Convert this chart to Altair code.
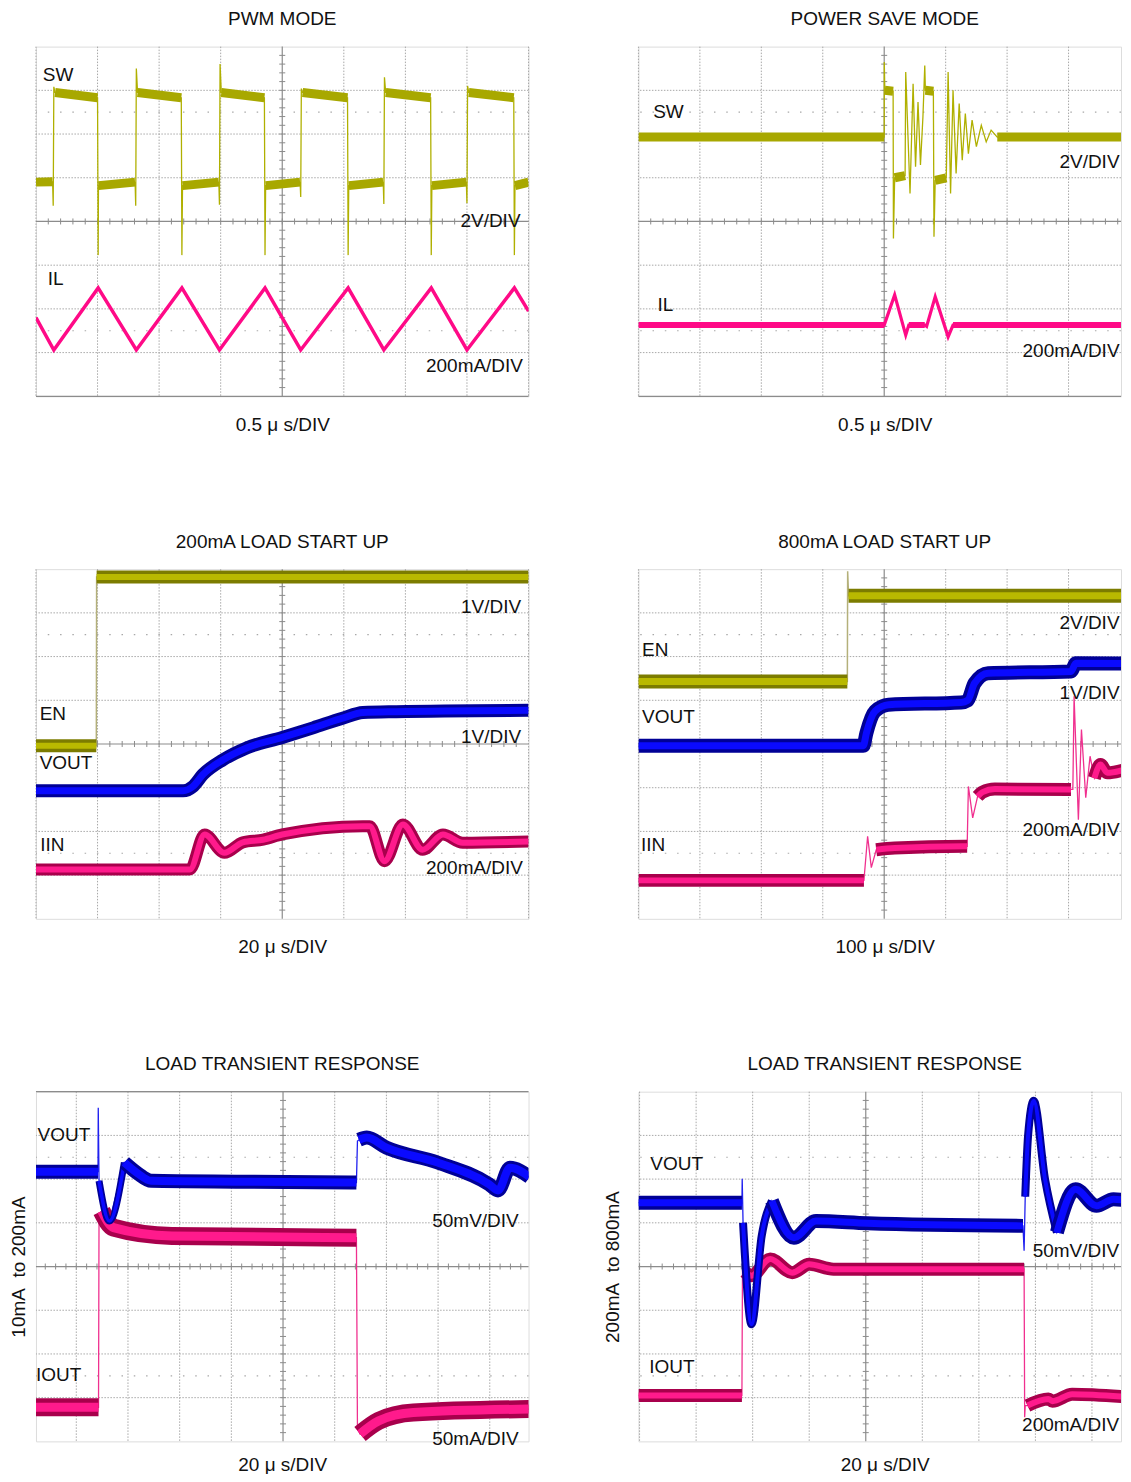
import altair as alt
import pandas as pd

FONT = "Liberation Sans"
FS = 19
TXT = "#111111"
GRID = "#a8a8a8"
AXC = "#8c8c8c"

# seg codes: >0 thick noisy band, <0 medium-width stroke, 0 thin connecting trace only

# ---------------- Panel 1: PWM MODE ----------------
PWM_SW_T = [-4.00, -3.73, -3.72, -3.71, -3.69, -3.00, -2.99, -2.985, -2.39, -2.38, -2.37, -2.35,
            -1.64, -1.63, -1.62, -1.03, -1.02, -1.01, -0.99, -0.29, -0.28, -0.27, 0.29, 0.30,
            0.31, 0.33, 1.06, 1.07, 1.08, 1.64, 1.65, 1.66, 1.68, 2.41, 2.42, 2.43, 2.99, 3.00,
            3.01, 3.03, 3.76, 3.77, 3.78, 4.00]
PWM_SW_V = [0.90, 0.91, 0.36, 3.08, 2.95, 2.83, -0.77, 0.82, 0.90, 0.36, 3.50, 2.95,
            2.83, -0.77, 0.82, 0.90, 0.38, 3.60, 2.95, 2.83, -0.77, 0.82, 0.90, 0.56,
            3.04, 2.95, 2.83, -0.77, 0.82, 0.90, 0.40, 3.30, 2.95, 2.83, -0.77, 0.82, 0.90, 0.42,
            3.10, 2.95, 2.83, -0.77, 0.82, 0.90]
PWM_SW_SEG = [1, 1, 0, 0, 2, 2, 0, 3, 3, 0, 0, 4,
              4, 0, 5, 5, 0, 0, 6, 6, 0, 7, 7, 0,
              0, 8, 8, 0, 9, 9, 0, 0, 10, 10, 0, 11, 11, 0,
              0, 12, 12, 0, 13, 13]
PWM_IL_T = [-4.00, -3.71, -2.99, -2.37, -1.63, -1.02, -0.28, 0.30, 1.07, 1.65, 2.42, 3.00, 3.77, 4.00]
PWM_IL_V = [-2.20, -2.94, -1.52, -2.94, -1.52, -2.94, -1.52, -2.94, -1.52, -2.94, -1.52, -2.94, -1.52, -2.05]
PWM_IL_SEG = [1] * 14

# ---------------- Panel 2: POWER SAVE MODE ----------------
PSM_SW_T = [-4.00, 0.00, 0.001, 0.01, 0.145, 0.15, 0.17, 0.34, 0.35, 0.42, 0.47, 0.51,
            0.55, 0.59, 0.63, 0.66, 0.67, 0.80, 0.81, 0.83, 1.01, 1.04, 1.08, 1.12,
            1.17, 1.22, 1.27, 1.32, 1.37, 1.43, 1.50, 1.58, 1.66, 1.74, 1.84, 4.00]
PSM_SW_V = [1.93, 1.93, 3.65, 3.00, 2.98, -0.39, 1.00, 1.05, 3.42, 0.64, 3.15, 1.25,
            2.73, 1.29, 2.39, 3.57, 3.00, 2.98, -0.35, 0.94, 1.00, 3.42, 0.64, 3.00,
            1.10, 2.70, 1.40, 2.47, 1.55, 2.32, 1.71, 2.20, 1.82, 2.09, 1.93, 1.93]
PSM_SW_SEG = [1, 1, 0, 2, 2, 0, 3, 3, 0, 0, 0, 0,
              0, 0, 0, 0, 4, 4, 0, 5, 5, 0, 0, 0,
              0, 0, 0, 0, 0, 0, 0, 0, 0, 0, 6, 6]
PSM_IL_T = [-4.00, 0.00, 0.17, 0.35, 0.40, 0.66, 0.69, 0.83, 1.04, 1.12, 4.00]
PSM_IL_V = [-2.37, -2.37, -1.68, -2.60, -2.37, -2.37, -2.40, -1.72, -2.64, -2.37, -2.37]
PSM_IL_SEG = [1, 1, 0, 0, 2, 2, 0, 0, 0, 3, 3]

# ---------------- Panel 3: 200mA LOAD START UP ----------------
SU2_EN_T = [-4.00, -3.02, -3.015, 4.00]
SU2_EN_V = [-0.04, -0.04, 3.82, 3.82]
SU2_EN_SEG = [1, 1, 2, 2]
SU2_VOUT_T = [-4.00, -1.61, -1.45, -1.29, -0.96, -0.58, 0.00, 0.50, 0.98, 1.31, 1.85, 4.00]
SU2_VOUT_V = [-1.07, -1.07, -0.97, -0.70, -0.36, -0.09, 0.15, 0.37, 0.59, 0.72, 0.74, 0.77]
SU2_VOUT_SEG = [1] * 12
SU2_IIN_T = [-4.00, -1.50, -1.26, -0.94, -0.64, -0.31, 0.00, 1.31, 1.42, 1.66, 1.96, 2.28, 2.61, 2.93, 4.00]
SU2_IIN_V = [-2.87, -2.87, -2.07, -2.49, -2.25, -2.19, -2.07, -1.88, -1.88, -2.68, -1.84, -2.42, -2.07, -2.26, -2.23]
SU2_IIN_SEG = [1] * 15

# ---------------- Panel 4: 800mA LOAD START UP ----------------
SU8_EN_T = [-4.00, -0.60, -0.595, -0.58, 4.00]
SU8_EN_V = [1.43, 1.43, 3.95, 3.39, 3.39]
SU8_EN_SEG = [1, 1, 0, 2, 2]
SU8_VOUT_T = [-4.00, -0.34, -0.29, -0.15, 0.07, 1.25, 1.36, 1.47, 1.69, 3.04, 3.12, 4.00]
SU8_VOUT_V = [-0.04, -0.04, 0.25, 0.75, 0.90, 0.95, 1.00, 1.39, 1.62, 1.66, 1.85, 1.84]
SU8_VOUT_SEG = [1] * 12
SU8_IIN_T = [-4.00, -0.33, -0.27, -0.21, -0.13, 0.17, 1.30, 1.35, 1.37, 1.44, 1.52, 1.60,
             1.80, 3.04, 3.07, 3.09, 3.16, 3.21, 3.28, 3.35, 3.42, 3.52, 3.63, 4.00]
SU8_IIN_V = [-3.12, -3.12, -2.11, -2.83, -2.42, -2.38, -2.34, -2.34, -0.97, -1.69, -1.20, -1.10,
             -1.03, -1.04, -1.04, 1.09, -1.73, 0.33, -1.23, -0.28, -0.78, -0.47, -0.66, -0.55]
SU8_IIN_SEG = [1, 1, 0, 0, 2, 2, 2, 2, 0, 0, 3, 3,
               3, 3, 0, 0, 0, 0, 0, 0, 4, 4, 4, 4]

# ---------------- Panel 5: LOAD TRANSIENT 10mA to 200mA ----------------
LT1_VOUT_T = [-4.78, -3.58, -3.575, -3.56, -3.36, -3.07, -3.07, -2.81, -2.55, -0.81, 1.42, 1.44,
              1.47, 1.62, 2.00, 2.99, 3.99, 4.16, 4.39, 4.77]
LT1_VOUT_V = [2.17, 2.17, 3.63, 1.96, 1.04, 2.38, 2.38, 2.13, 1.96, 1.94, 1.92, 2.87,
              2.90, 2.95, 2.72, 2.38, 1.88, 1.74, 2.26, 2.05]
LT1_VOUT_SEG = [1, 1, 0, -1, -1, -1, 2, 2, 2, 2, 2, 0,
                3, 3, 3, 3, 3, 3, 3, 3]
LT1_IOUT_T = [-4.78, -3.57, -3.56, -3.51, -3.28, -2.15, 1.42, 1.44, 1.49, 1.85, 2.52, 4.77]
LT1_IOUT_V = [-3.22, -3.22, 1.10, 1.27, 0.89, 0.70, 0.66, -3.70, -3.83, -3.53, -3.34, -3.26]
LT1_IOUT_SEG = [1, 1, 0, 2, 2, 2, 2, 0, 3, 3, 3, 3]

# ---------------- Panel 6: LOAD TRANSIENT 200mA to 800mA ----------------
LT2_VOUT_T = [-4.02, -2.19, -2.185, -2.17, -2.14, -2.02, -1.84, -1.66, -1.66, -1.27, -0.88, 0.03,
              2.78, 2.80, 2.82, 2.87, 2.97, 3.17, 3.38, 3.38, 3.71, 4.08, 4.38, 4.67]
LT2_VOUT_V = [1.46, 1.46, 2.01, 1.00, 0.32, -1.32, 0.70, 1.50, 1.50, 0.66, 1.04, 0.99,
              0.93, 0.36, 1.60, 2.99, 3.79, 2.00, 0.78, 0.78, 1.77, 1.39, 1.54, 1.50]
LT2_VOUT_SEG = [1, 1, 0, -1, -1, -1, -1, -1, 2, 2, 2, 2,
                2, 0, -2, -2, -2, -2, -2, 3, 3, 3, 3, 3]
LT2_IOUT_T = [-4.02, -2.19, -2.18, -2.14, -2.02, -1.69, -1.30, -1.00, -0.57, 2.80, 2.81, 2.82, 2.86, 3.23, 3.30, 3.65, 4.67]
LT2_IOUT_V = [-2.95, -2.95, -0.10, -0.12, -0.21, 0.17, -0.14, 0.05, -0.06, -0.06, -3.45, -3.18, -3.18, -3.03, -3.08, -2.92, -2.99]
LT2_IOUT_SEG = [1, 1, 0, 2, 2, 2, 2, 2, 2, 2, 0, 0, 3, 3, 3, 3, 3]

# ---------------- texts ----------------
TITLES = ["PWM MODE", "POWER SAVE MODE", "200mA LOAD START UP", "800mA LOAD START UP",
          "LOAD TRANSIENT RESPONSE", "LOAD TRANSIENT RESPONSE"]
XTITLES = ["0.5 \u03bc s/DIV", "0.5 \u03bc s/DIV", "20 \u03bc s/DIV", "100 \u03bc s/DIV",
           "20 \u03bc s/DIV", "20 \u03bc s/DIV"]
YTITLES = [None, None, None, None, "10mA\u00a0 to 200mA", "200mA\u00a0 to 800mA"]
# (text, t, v, align)
LABELS = [
    [("SW", -3.89, 3.35, "left"), ("2V/DIV", 3.87, 0.0, "right"),
     ("IL", -3.81, -1.31, "left"), ("200mA/DIV", 3.91, -3.31, "right")],
    [("SW", -3.76, 2.50, "left"), ("2V/DIV", 3.83, 1.36, "right"),
     ("IL", -3.69, -1.91, "left"), ("200mA/DIV", 3.83, -2.96, "right")],
    [("1V/DIV", 3.88, 3.13, "right"), ("EN", -3.94, 0.69, "left"),
     ("1V/DIV", 3.88, 0.16, "right"), ("VOUT", -3.94, -0.43, "left"),
     ("IIN", -3.93, -2.31, "left"), ("200mA/DIV", 3.91, -2.83, "right")],
    [("2V/DIV", 3.83, 2.77, "right"), ("EN", -3.94, 2.15, "left"),
     ("1V/DIV", 3.83, 1.17, "right"), ("VOUT", -3.94, 0.62, "left"),
     ("200mA/DIV", 3.83, -1.97, "right"), ("IIN", -3.96, -2.31, "left")],
    [("VOUT", -4.75, 3.02, "left"), ("50mV/DIV", 4.56, 1.04, "right"),
     ("IOUT", -4.78, -2.48, "left"), ("50mA/DIV", 4.56, -3.95, "right")],
    [("VOUT", -3.81, 2.34, "left"), ("50mV/DIV", 4.48, 0.35, "right"),
     ("IOUT", -3.83, -2.30, "left"), ("200mA/DIV", 4.48, -3.62, "right")],
]

# ---------------- styles ----------------
OLIVE = dict(outer="#a8a800", ow=9, inner=None, iw=0, thin="#b0b000", tw=1.3)
EN_ST = dict(outer="#7c7c00", ow=13, inner="#b9b900", iw=6, thin="#b4b07a", tw=1.5)
PINK_L = dict(outer="#ff0a87", ow=3.5, inner=None, iw=0, thin="#ff0a87", tw=1.3)
PINK_L2 = dict(outer="#ff0a87", ow=6, inner=None, iw=0, thin="#ff0a87", tw=3.2)
PINK_B = dict(outer="#a8004c", ow=12, inner="#ff1a8c", iw=6, thin="#f0308f", tw=1.3)
BLUE_B = dict(outer="#000096", ow=13, inner="#0a0aff", iw=7, thin="#2020f0", tw=1.3, mw=7)

H = 350
RIGHT_W = 483


def tdf(t, v, seg):
    return pd.DataFrame({"t": t, "v": v, "seg": seg, "i": list(range(len(t)))})


def panel(k, xdom, width, hgrid, borders, traces, ytitle_pad=0, xpad=19.5, right=False):
    xs = alt.Scale(domain=xdom, nice=False, zero=False)
    ys = alt.Scale(domain=[-4, 4], nice=False, zero=False)
    ax_kw = dict(labels=False, ticks=False, domain=False, grid=False, titleFont=FONT,
                 titleFontSize=FS, titleFontWeight="normal", titleColor=TXT)
    if right:
        xaxis = alt.Axis(title=XTITLES[k], titlePadding=xpad, titleX=246.5, **ax_kw)
    else:
        xaxis = alt.Axis(title=XTITLES[k], titlePadding=xpad, **ax_kw)
    yaxis = alt.Axis(title=YTITLES[k], titlePadding=ytitle_pad, **ax_kw) if YTITLES[k] else None

    def X(f):
        return alt.X(f, type="quantitative", scale=xs, axis=xaxis)

    def Y(f):
        return alt.Y(f, type="quantitative", scale=ys, axis=yaxis)

    vl = [g for g in [-4, -3, -2, -1, 1, 2, 3, 4] if xdom[0] <= g <= xdom[1]]
    layers = [
        alt.Chart(pd.DataFrame({"t": vl})).mark_rule(color=GRID, strokeWidth=1, strokeDash=[1.5, 1.5]).encode(x=X("t")),
        alt.Chart(pd.DataFrame({"v": hgrid})).mark_rule(color=GRID, strokeWidth=1, strokeDash=[1.5, 1.5]).encode(y=Y("v")),
        alt.Chart(pd.DataFrame({"v": [-2.5, 2.5]})).mark_rule(color=GRID, strokeWidth=1.2, strokeDash=[1.5, 10.8]).encode(y=Y("v")),
        alt.Chart(pd.DataFrame({"t": [0]})).mark_rule(color=AXC, strokeWidth=1.2).encode(x=X("t")),
        alt.Chart(pd.DataFrame({"v": [0]})).mark_rule(color=AXC, strokeWidth=1.2).encode(y=Y("v")),
    ]
    if borders:
        layers.append(alt.Chart(pd.DataFrame({"v": borders})).mark_rule(color=AXC, strokeWidth=1.2).encode(y=Y("v")))
    # small tick marks along the centre cross
    pxx = (xdom[1] - xdom[0]) / width
    pxy = 8.0 / H
    vt = [round(-4 + 0.2 * n, 2) for n in range(1, 40)]
    ht = [round(-5 + 0.2 * n, 2) for n in range(0, 51) if xdom[0] < -5 + 0.2 * n < xdom[1]]
    layers.append(alt.Chart(pd.DataFrame({"v": vt, "a": [-3 * pxx] * len(vt), "b": [3 * pxx] * len(vt)}))
                  .mark_rule(color=AXC, strokeWidth=1).encode(x=X("a"), x2="b", y=Y("v")))
    layers.append(alt.Chart(pd.DataFrame({"t": ht, "a": [-3 * pxy] * len(ht), "b": [3 * pxy] * len(ht)}))
                  .mark_rule(color=AXC, strokeWidth=1).encode(x=X("t"), y=Y("a"), y2="b"))
    # traces: thin path first, then medium strokes, then the thick noisy bands
    for df, st, interp in traces:
        layers.append(alt.Chart(df).mark_line(color=st["thin"], strokeWidth=st["tw"], clip=True)
                      .encode(x=X("t"), y=Y("v"), order="i:Q"))
    for df, st, interp in traces:
        mid = df[df.seg < 0]
        if len(mid):
            layers.append(alt.Chart(mid).mark_line(color=st["outer"], strokeWidth=st["mw"], clip=True,
                                                   interpolate=interp, strokeJoin="round")
                          .encode(x=X("t"), y=Y("v"), detail="seg:N", order="i:Q"))
            layers.append(alt.Chart(mid).mark_line(color=st["inner"], strokeWidth=st["mw"] * 0.5, clip=True,
                                                   interpolate=interp, strokeJoin="round")
                          .encode(x=X("t"), y=Y("v"), detail="seg:N", order="i:Q"))
        band = df[df.seg > 0]
        layers.append(alt.Chart(band).mark_line(color=st["outer"], strokeWidth=st["ow"], clip=True,
                                                interpolate=interp,
                                                strokeJoin="round" if st["ow"] > 7 else "miter")
                      .encode(x=X("t"), y=Y("v"), detail="seg:N", order="i:Q"))
        if st["inner"]:
            layers.append(alt.Chart(band).mark_line(color=st["inner"], strokeWidth=st["iw"], clip=True,
                                                    interpolate=interp, strokeJoin="round")
                          .encode(x=X("t"), y=Y("v"), detail="seg:N", order="i:Q"))
    # channel / scale labels
    lab = pd.DataFrame(LABELS[k], columns=["txt", "t", "v", "al"])
    for al in ["left", "right"]:
        sub = lab[lab.al == al][["txt", "t", "v"]]
        if len(sub):
            layers.append(alt.Chart(sub).mark_text(font=FONT, fontSize=FS, color=TXT, align=al,
                                                   baseline="middle")
                          .encode(x=X("t"), y=Y("v"), text="txt:N"))
    tp = dict(font=FONT, fontSize=FS, fontWeight="normal", color=TXT, anchor="middle", offset=17)
    if right:
        tp["dx"] = 5
    return alt.layer(*layers).properties(width=width, height=H, title=alt.TitleParams(TITLES[k], **tp))


HG = [-3, -2, -1, 1, 2, 3]
RD = -4 + RIGHT_W / 61.5
p1 = panel(0, [-4, 4], 493, HG, [-4],
           [(tdf(PWM_SW_T, PWM_SW_V, PWM_SW_SEG), OLIVE, "linear"),
            (tdf(PWM_IL_T, PWM_IL_V, PWM_IL_SEG), PINK_L, "linear")])
p2 = panel(1, [-4, RD], RIGHT_W, HG, [-4],
           [(tdf(PSM_SW_T, PSM_SW_V, PSM_SW_SEG), OLIVE, "linear"),
            (tdf(PSM_IL_T, PSM_IL_V, PSM_IL_SEG), PINK_L2, "linear")], right=True)
p3 = panel(2, [-4, 4], 493, HG, [],
           [(tdf(SU2_EN_T, SU2_EN_V, SU2_EN_SEG), EN_ST, "linear"),
            (tdf(SU2_IIN_T, SU2_IIN_V, SU2_IIN_SEG), PINK_B, "monotone"),
            (tdf(SU2_VOUT_T, SU2_VOUT_V, SU2_VOUT_SEG), BLUE_B, "monotone")], xpad=18.8)
p4 = panel(3, [-4, RD], RIGHT_W, HG, [],
           [(tdf(SU8_EN_T, SU8_EN_V, SU8_EN_SEG), dict(EN_ST, ow=14, iw=7), "linear"),
            (tdf(SU8_IIN_T, SU8_IIN_V, SU8_IIN_SEG), dict(PINK_B, ow=13), "monotone"),
            (tdf(SU8_VOUT_T, SU8_VOUT_V, SU8_VOUT_SEG), dict(BLUE_B, ow=14), "monotone")],
           xpad=18.8, right=True)
p5 = panel(4, [-4.78, 4.75], 493, HG, [4],
           [(tdf(LT1_IOUT_T, LT1_IOUT_V, LT1_IOUT_SEG), dict(PINK_B, ow=18, iw=9), "monotone"),
            (tdf(LT1_VOUT_T, LT1_VOUT_V, LT1_VOUT_SEG), dict(BLUE_B, ow=14, iw=8, mw=7), "monotone")],
           ytitle_pad=7, xpad=14)
p6 = panel(5, [-4.02, -4.02 + RIGHT_W / 56.6], RIGHT_W, HG, [],
           [(tdf(LT2_IOUT_T, LT2_IOUT_V, LT2_IOUT_SEG), dict(PINK_B, ow=13, iw=6), "monotone"),
            (tdf(LT2_VOUT_T, LT2_VOUT_V, LT2_VOUT_SEG), dict(BLUE_B, ow=14, iw=7, mw=8), "monotone")],
           ytitle_pad=16, xpad=14, right=True)

chart = alt.concat(p1, p2, p3, p4, p5, p6, columns=2,
                   spacing={"row": 173, "column": 110}, bounds="flush",
                   padding={"left": 1, "top": 0, "right": 0, "bottom": -2}
                   ).configure_view(stroke=None).configure(background="white")

chart.save("out.html", embed_options={"renderer": "svg", "actions": False})
